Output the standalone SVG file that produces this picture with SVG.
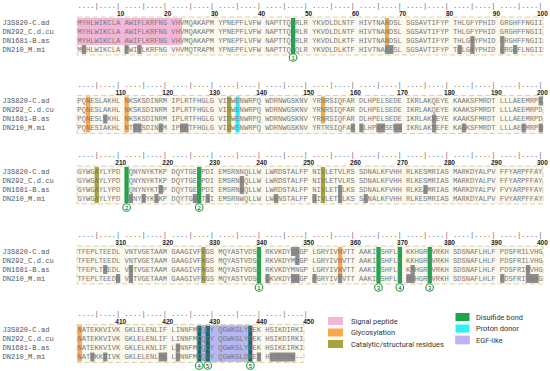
<svg xmlns="http://www.w3.org/2000/svg" width="550" height="371" viewBox="0 0 550 371">
<style>
.lab{font-family:"Liberation Mono",monospace;font-size:7.116px;fill:#555}
.seq{font-family:"Liberation Mono",monospace;font-size:7.116px;fill:#7a7a7a}
.rul{font-family:"Liberation Mono",monospace;font-size:7.116px;fill:#666}
.num{font-family:"Liberation Sans",Arial,sans-serif;font-weight:bold;font-size:6.5px;fill:#222;text-anchor:middle}
.bg{fill:#fbf8ee;stroke:#d8c69c;stroke-width:0.8;stroke-dasharray:5 3}
.pk{fill:#f3b6d8}
.or{fill:#f8a850}
.ol{fill:#aaa23a}
.gr{fill:#18a84a}
.tl{fill:#0f6e62}
.cy{fill:#2ef2f2}
.gy{fill:#8e8e8e}
.egf{fill:#b6b6f2}
.circ{fill:#fff;stroke:#1a9e3a;stroke-width:1.1}
.cn{font-family:"Liberation Sans",Arial,sans-serif;font-size:6px;text-anchor:middle;fill:#333}
.leg{font-family:Roboto,"Liberation Sans",sans-serif;font-size:7.4px;fill:#333}
</style>

<!-- Block 1 -->
<g id="block1">
<rect class="bg" x="77" y="17" width="466" height="38"/>
<g transform="translate(77.5 0) scale(4.27 1)">
<rect class="pk" x="0" y="18" width="24.5" height="27"/>
<rect class="gr" x="50" y="18" width="1" height="36"/>
<rect class="or" x="72" y="18" width="1" height="27"/>
<rect class="gy" x="92" y="36" width="1" height="9"/>
<rect class="gy" x="99" y="36" width="1" height="9"/>
<rect class="gy" x="1" y="45" width="1" height="9"/>
<rect class="gy" x="11" y="45" width="1" height="9"/>
<rect class="gy" x="14" y="45" width="1" height="9"/>
<rect class="gy" x="72" y="45" width="2" height="9"/>
<rect class="gy" x="89" y="45" width="1" height="9"/>
<rect class="gy" x="92" y="45" width="1" height="9"/>
<rect class="gy" x="99" y="45" width="1" height="9"/>
<rect class="gy" x="102" y="45" width="1" height="9"/>
</g>
<text class="rul" x="77.5" y="7.5">....|....| ....|....| ....|....| ....|....| ....|....| ....|....| ....|....| ....|....| ....|....| ....|....|</text>
<text class="num" y="15.5"><tspan x="120.7">10</tspan><tspan x="167.7">20</tspan><tspan x="214.6">30</tspan><tspan x="261.6">40</tspan><tspan x="308.6">50</tspan><tspan x="355.5">60</tspan><tspan x="402.5">70</tspan><tspan x="449.5">80</tspan><tspan x="496.4">90</tspan><tspan x="542.4">100</tspan></text>
<text class="lab" x="2.5" y="24.9">J3S820-C.ad</text>
<text class="lab" x="2.5" y="33.9">DN292_C.d.cu</text>
<text class="lab" x="2.5" y="42.9">DN1681-B.as</text>
<text class="lab" x="2.5" y="51.9">DN210_M.mi</text>
<text class="seq" x="77.5" y="24.9">MYHLWIKCLA AWIFLKRFNG VHVMQAKAPM YPNEPFLVFW NAPTTQCRLR YKVDLDLNTF HIVTNANDSL SGSAVTIFYP THLGFYPHID GRGHFFNGII</text>
<text class="seq" x="77.5" y="33.9">MYHLWIKCLA AWIFLKRFNG VHVMQAKAPM YPNEPFLVFW NAPTTQCRLR YKVDLDLNTF HIVTNANDSL SGSAVTIFYP THLGFYPHID GRGHFFNGII</text>
<text class="seq" x="77.5" y="42.9">MYHLWIKCLA AWIFLKRFNG VHVMQAKAPM YPNEPFLVFW NAPTTQCRLR YKVDLDLKTF HIVTNANDSL SGSAVTIFYP THLGNYPHID ERGHFFNGII</text>
<text class="seq" x="77.5" y="51.9">MCHLWIKCLA FWIVLKRFNG VHVMQTRAPM YPNEPFLVFW NAPTTQCQLR YKVDLDLKTF HIVTNAKKSL SGSAVTIFYP TQLGNYPHID ERGNFLNGII</text>
<circle class="circ" cx="293.1" cy="57.5" r="3.8"/><text class="cn" x="293.1" y="59.6">1</text>
</g>

<!-- Block 2 -->
<g id="block2">
<rect class="bg" x="77" y="95.5" width="466" height="38"/>
<g transform="translate(77.5 0) scale(4.27 1)">
<rect class="or" x="2" y="96.5" width="1" height="36"/>
<rect class="or" x="11" y="96.5" width="1" height="36"/>
<rect class="or" x="57" y="96.5" width="1" height="27"/>
<rect class="ol" x="35" y="96.5" width="1" height="36"/>
<rect class="cy" x="37" y="96.5" width="1" height="36"/>
<rect class="gy" x="108" y="96.5" width="1" height="9"/>
<rect class="gy" x="6" y="114.5" width="1" height="9"/>
<rect class="gy" x="83" y="114.5" width="1" height="9"/>
<rect class="gy" x="13" y="123.5" width="2" height="9"/>
<rect class="gy" x="19" y="123.5" width="1" height="9"/>
<rect class="gy" x="24" y="123.5" width="2" height="9"/>
<rect class="gy" x="64" y="123.5" width="1" height="9"/>
<rect class="gy" x="66" y="123.5" width="1" height="9"/>
<rect class="gy" x="70" y="123.5" width="2" height="9"/>
<rect class="gy" x="74" y="123.5" width="2" height="9"/>
<rect class="gy" x="83" y="123.5" width="1" height="9"/>
<rect class="gy" x="90" y="123.5" width="1" height="9"/>
<rect class="gy" x="104" y="123.5" width="1" height="9"/>
<rect class="gy" x="108" y="123.5" width="1" height="9"/>
</g>
<text class="rul" x="77.5" y="86.5">....|....| ....|....| ....|....| ....|....| ....|....| ....|....| ....|....| ....|....| ....|....| ....|....|</text>
<text class="num" y="94.5"><tspan x="120.7">110</tspan><tspan x="167.7">120</tspan><tspan x="214.6">130</tspan><tspan x="261.6">140</tspan><tspan x="308.6">150</tspan><tspan x="355.5">160</tspan><tspan x="402.5">170</tspan><tspan x="449.5">180</tspan><tspan x="496.4">190</tspan><tspan x="542.4">200</tspan></text>
<text class="lab" x="2.5" y="103.4">J3S820-C.ad</text>
<text class="lab" x="2.5" y="112.4">DN292_C.d.cu</text>
<text class="lab" x="2.5" y="121.4">DN1681-B.as</text>
<text class="lab" x="2.5" y="130.4">DN210_M.mi</text>
<text class="seq" x="77.5" y="103.4">PQNESLAKHL NKSKSDINRM IPLRTFHGLG VIDWENWRPQ WDRNWGSKNV YRNRSIQFAR DLHPELSEDE IKRLAKQEYE KAAKSFMRDT LLLAEEMRPS</text>
<text class="seq" x="77.5" y="112.4">PQNESLAKHL NKSKSDINRM IPLRTFHGLG VIDWENWRPQ WDRNWGSKNV YRNRSIQFAR DLHPELSEDE IKRLAKQEYE KAAKSFMRDT LLLAEEMRPD</text>
<text class="seq" x="77.5" y="121.4">PQNESLVKHL NKSKSDINRM IPLRTFHGLG VIDWENWRPQ WDRNWGSKNV YRNRSIQFAR DLHPELSEDE IKRLAKREYE KAAKSFMRDT LLLAEEMRPD</text>
<text class="seq" x="77.5" y="130.4">PQNESIAKHL NTTKSDINKM IPKKTFHGLG VIDWENWRPQ WDRNWGSKNV YRTRSIQFAK SLHPNMSEVA IKRLAKTEFE KAGKSFMRDT LLLAEKMRPS</text>
</g>

<!-- Block 3 -->
<g id="block3">
<rect class="bg" x="77" y="166" width="466" height="38"/>
<g transform="translate(77.5 0) scale(4.27 1)">
<rect class="ol" x="4" y="167" width="1" height="36"/>
<rect class="gr" x="11" y="167" width="1" height="36"/>
<rect class="gr" x="28" y="167" width="1" height="36"/>
<rect class="ol" x="57" y="167" width="1" height="36"/>
<rect class="gy" x="38" y="176" width="1" height="9"/>
<rect class="gy" x="19" y="185" width="1" height="9"/>
<rect class="gy" x="38" y="185" width="1" height="9"/>
<rect class="gy" x="61" y="185" width="1" height="9"/>
<rect class="gy" x="81" y="185" width="1" height="9"/>
<rect class="gy" x="12" y="194" width="1" height="9"/>
<rect class="gy" x="15" y="194" width="1" height="9"/>
<rect class="gy" x="18" y="194" width="1" height="9"/>
<rect class="gy" x="27" y="194" width="1" height="9"/>
<rect class="gy" x="30" y="194" width="1" height="9"/>
<rect class="gy" x="46" y="194" width="1" height="9"/>
<rect class="gy" x="55" y="194" width="1" height="9"/>
<rect class="gy" x="61" y="194" width="1" height="9"/>
<rect class="gy" x="67" y="194" width="1" height="9"/>
</g>
<text class="rul" x="77.5" y="157">....|....| ....|....| ....|....| ....|....| ....|....| ....|....| ....|....| ....|....| ....|....| ....|....|</text>
<text class="num" y="165"><tspan x="120.7">210</tspan><tspan x="167.7">220</tspan><tspan x="214.6">230</tspan><tspan x="261.6">240</tspan><tspan x="308.6">250</tspan><tspan x="355.5">260</tspan><tspan x="402.5">270</tspan><tspan x="449.5">280</tspan><tspan x="496.4">290</tspan><tspan x="542.4">300</tspan></text>
<text class="lab" x="2.5" y="173.9">J3S820-C.ad</text>
<text class="lab" x="2.5" y="182.9">DN292_C.d.cu</text>
<text class="lab" x="2.5" y="191.9">DN1681-B.as</text>
<text class="lab" x="2.5" y="200.9">DN210_M.mi</text>
<text class="seq" x="77.5" y="173.9">GYWGAYLYPD CQNYNYKTKP DQYTGECPDI EMSRNNQLLW LWRDSTALFP NIVLETVLRS SDNALKFVHH RLKESMRIAS MARKDYALPV FFYARPFFAY</text>
<text class="seq" x="77.5" y="182.9">GYWGAYLYPD CQNYNYKTKP DQYTGECPDI EMSRNNQLLW LWRDSTALFP NIVLETVLRS SDNALKFVHH RLKESMRIAS MARKDYALPV FFYARPFFAY</text>
<text class="seq" x="77.5" y="191.9">GYWGAYLYPD CQNYNYKTRP DQYTGECPDI EMSRNNQLLW LWRDSTALFP NIVLETILKS SDNALKFVHH RLKEAMRIAS MARKDYALPV FVYARPFFAY</text>
<text class="seq" x="77.5" y="200.9">GYWGAYLYPD CKNYSYKSKP DQYTGKCTNI EMSRNWQLLW LWRNSTALFP SIVLETILKS SANALKFVHH RLKESMRIAS MARKDYALPV FVYARPFFAY</text>
<circle class="circ" cx="126.6" cy="207.5" r="3.8"/><text class="cn" x="126.6" y="209.6">2</text>
<circle class="circ" cx="199.2" cy="207.5" r="3.8"/><text class="cn" x="199.2" y="209.6">2</text>
</g>

<!-- Block 4 -->
<g id="block4">
<rect class="bg" x="77" y="246" width="466" height="38"/>
<g transform="translate(77.5 0) scale(4.27 1)">
<rect class="ol" x="29" y="247" width="1" height="36"/>
<rect class="gr" x="42" y="247" width="1" height="36"/>
<rect class="or" x="61" y="247" width="1" height="27"/>
<rect class="gr" x="70" y="247" width="1" height="36"/>
<rect class="gr" x="75" y="247" width="1" height="36"/>
<rect class="gr" x="82" y="247" width="1" height="36"/>
<rect class="gy" x="50" y="247" width="2" height="9"/>
<rect class="gy" x="51" y="256" width="1" height="9"/>
<rect class="gy" x="6" y="265" width="1" height="9"/>
<rect class="gy" x="12" y="265" width="1" height="9"/>
<rect class="gy" x="78" y="265" width="1" height="9"/>
<rect class="gy" x="105" y="265" width="1" height="9"/>
<rect class="gy" x="9" y="274" width="1" height="9"/>
<rect class="gy" x="12" y="274" width="1" height="9"/>
<rect class="gy" x="44" y="274" width="1" height="9"/>
<rect class="gy" x="50" y="274" width="2" height="9"/>
<rect class="gy" x="55" y="274" width="1" height="9"/>
<rect class="gy" x="61" y="274" width="1" height="9"/>
<rect class="gy" x="77" y="274" width="2" height="9"/>
<rect class="gy" x="99" y="274" width="1" height="9"/>
<rect class="gy" x="105" y="274" width="3" height="9"/>
</g>
<text class="rul" x="77.5" y="237">....|....| ....|....| ....|....| ....|....| ....|....| ....|....| ....|....| ....|....| ....|....| ....|....|</text>
<text class="num" y="245"><tspan x="120.7">310</tspan><tspan x="167.7">320</tspan><tspan x="214.6">330</tspan><tspan x="261.6">340</tspan><tspan x="308.6">350</tspan><tspan x="355.5">360</tspan><tspan x="402.5">370</tspan><tspan x="449.5">380</tspan><tspan x="496.4">390</tspan><tspan x="542.4">400</tspan></text>
<text class="lab" x="2.5" y="253.9">J3S820-C.ad</text>
<text class="lab" x="2.5" y="262.9">DN292_C.d.cu</text>
<text class="lab" x="2.5" y="271.9">DN1681-B.as</text>
<text class="lab" x="2.5" y="280.9">DN210_M.mi</text>
<text class="seq" x="77.5" y="253.9">TFEPLTEEDL VNTVGETAAM GAAGIVFNGS MQYASTVDSC RKVKDYINGP LGRYIVNVTT AAKICSHFLC KKHGRCVRKH SDSNAFLHLF PDSFRILVHG</text>
<text class="seq" x="77.5" y="262.9">TFEPLTEEDL VNTVGETAAM GAAGIVFNGS MQYASTVDSC RKVKDYMDGP LGRYIVNVTT AAKICSHFLC KKHGRCVRKH SDSNAFLHLF PDSFRILVHG</text>
<text class="seq" x="77.5" y="271.9">TFEPLTKEDL VSTVGETAAM GAAGIVFNGS MQYASTVDSC RKVKDYMNGP LGRYIVNVTT AAKICSHFLC KMHGRCVRKH SDSNAFLHLF PDSFRIMVHG</text>
<text class="seq" x="77.5" y="280.9">TFEPLTEEDN VSTVGETAAM GAAGIVFNGS MQYASTVDSC QKVKDYSNGP PGRYIVTVTT AAKICSHFLC MNHGRCVRKH SDSNAFLHLF FDSFRIVNAG</text>
<circle class="circ" cx="259" cy="287.5" r="3.8"/><text class="cn" x="259" y="289.6">1</text>
<circle class="circ" cx="378.4" cy="287.5" r="3.8"/><text class="cn" x="378.4" y="289.6">3</text>
<circle class="circ" cx="399.8" cy="287.5" r="3.8"/><text class="cn" x="399.8" y="289.6">4</text>
<circle class="circ" cx="429.6" cy="287.5" r="3.8"/><text class="cn" x="429.6" y="289.6">3</text>
</g>

<!-- Block 5 -->
<g id="block5">
<rect class="bg" x="77" y="324.5" width="227" height="38"/>
<g transform="translate(77.5 0) scale(4.27 1)">
<rect class="or" x="0" y="325.5" width="1" height="36"/>
<rect class="egf" x="28" y="325.5" width="13" height="36"/>
<rect class="tl" x="28" y="325.5" width="1" height="36"/>
<rect class="tl" x="30" y="325.5" width="1" height="36"/>
<rect class="tl" x="40" y="325.5" width="1" height="36"/>
<rect class="gy" x="23" y="343.5" width="1" height="9"/>
<rect class="gy" x="3" y="352.5" width="1" height="9"/>
<rect class="gy" x="6" y="352.5" width="1" height="9"/>
<rect class="gy" x="19" y="352.5" width="2" height="9"/>
<rect class="gy" x="23" y="352.5" width="1" height="9"/>
<rect class="gy" x="42" y="352.5" width="1" height="9"/>
<rect class="gy" x="45" y="352.5" width="6" height="9"/>
</g>
<rect x="197" y="325.5" width="55.5" height="36" fill="none" stroke="#f3a6cf" stroke-width="0.8"/>
<text class="rul" x="77.5" y="315.5">....|....| ....|....| ....|....| ....|....| ....|....|</text>
<text class="num" y="323.5"><tspan x="120.7">410</tspan><tspan x="167.7">420</tspan><tspan x="214.6">430</tspan><tspan x="261.6">440</tspan><tspan x="308.6">450</tspan></text>
<text class="lab" x="2.5" y="332.4">J3S820-C.ad</text>
<text class="lab" x="2.5" y="341.4">DN292_C.d.cu</text>
<text class="lab" x="2.5" y="350.4">DN1681-B.as</text>
<text class="lab" x="2.5" y="359.4">DN210_M.mi</text>
<text class="seq" x="77.5" y="332.4">NATEKKVIVK GKLELENLIF LINNFMCQCY QGWKGLYCEK HSIKDIRKI</text>
<text class="seq" x="77.5" y="341.4">NATEKKVIVK GKLELENLIF LINNFMCQCY QGWKGLYCEK HSIKDIRKI</text>
<text class="seq" x="77.5" y="350.4">NATEKKVIVK GKLELKNLIF LSNNFMCQCY QGWKGLYCEK HSIKEIRKI</text>
<text class="seq" x="77.5" y="359.4">NATDKKSIVK GKLELENLRE LRNNFMCQCY QGWKGLDKEI HYDKESN--</text>
<circle class="circ" cx="199.2" cy="365.5" r="3.8"/><text class="cn" x="199.2" y="367.6">4</text>
<circle class="circ" cx="207.7" cy="365.5" r="3.8"/><text class="cn" x="207.7" y="367.6">5</text>
<circle class="circ" cx="250.4" cy="365.5" r="3.8"/><text class="cn" x="250.4" y="367.6">5</text>
</g>

<!-- Legend -->
<g id="legend">
<rect class="pk" x="328" y="317" width="15" height="8"/>
<rect class="or" x="328" y="328.5" width="15" height="8"/>
<rect class="ol" x="328" y="340" width="15" height="8"/>
<text class="leg" x="351" y="323.5">Signal peptide</text>
<text class="leg" x="351" y="335">Glycosylation</text>
<text class="leg" x="351" y="346.5">Catalytic/structural residues</text>
<rect class="gr" x="455.5" y="313" width="14" height="8"/>
<rect class="cy" x="455.5" y="324.5" width="14" height="8"/>
<rect class="egf" x="455.5" y="336" width="14" height="8" stroke="#f3a6cf" stroke-width="0.8"/>
<text class="leg" x="476" y="319.5">Disulfide bond</text>
<text class="leg" x="476" y="331">Proton donor</text>
<text class="leg" x="476" y="342.5">EGF-like</text>
</g>
</svg>
